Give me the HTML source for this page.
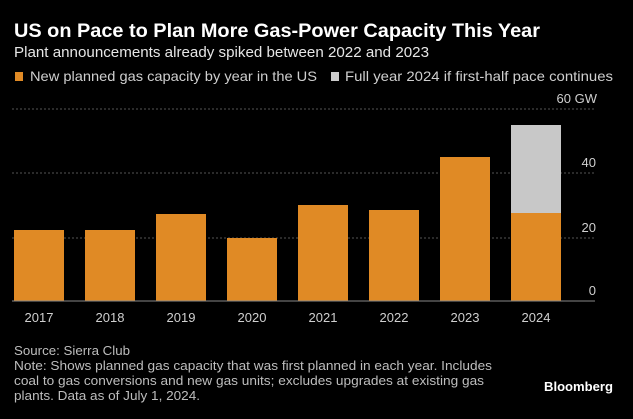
<!DOCTYPE html>
<html><head><meta charset="utf-8"><style>
body{margin:0;background:#000;width:633px;height:414px;overflow:hidden;font-family:"Liberation Sans",sans-serif;}
</style></head><body>
<svg width="633" height="414" xmlns="http://www.w3.org/2000/svg" font-family="Liberation Sans, sans-serif">
<rect width="633" height="414" fill="#000"/>
<text x="14" y="37" fill="#fff" font-size="19" font-weight="bold" textLength="526" lengthAdjust="spacingAndGlyphs">US on Pace to Plan More Gas-Power Capacity This Year</text>
<text x="14" y="57" fill="#e6e6e6" font-size="15" textLength="415" lengthAdjust="spacingAndGlyphs">Plant announcements already spiked between 2022 and 2023</text>
<rect x="15" y="72" width="8" height="9" fill="#e08a25"/>
<text x="30" y="81" fill="#cfcfcf" font-size="14" textLength="287" lengthAdjust="spacingAndGlyphs">New planned gas capacity by year in the US</text>
<rect x="331" y="72" width="8" height="9" fill="#cccccc"/>
<text x="345" y="81" fill="#cfcfcf" font-size="14" textLength="268" lengthAdjust="spacingAndGlyphs">Full year 2024 if first-half pace continues</text>
<g stroke="#555" stroke-dasharray="2,2" stroke-width="1">
<line x1="12" y1="109" x2="595" y2="109"/>
<line x1="12" y1="173" x2="595" y2="173"/>
<line x1="12" y1="238" x2="595" y2="238"/>
</g>
<g fill="#cfcfcf" font-size="13" text-anchor="end">
<text x="597" y="103">60 GW</text>
<text x="596" y="167">40</text>
<text x="596" y="232">20</text>
<text x="596" y="295">0</text>
</g>
<g fill="#e08a25">
<rect x="14" y="230" width="50" height="71"/>
<rect x="85" y="230" width="50" height="71"/>
<rect x="156" y="214" width="50" height="87"/>
<rect x="227" y="238" width="50" height="63"/>
<rect x="298" y="205" width="50" height="96"/>
<rect x="369" y="210" width="50" height="91"/>
<rect x="440" y="157" width="50" height="144"/>
<rect x="511" y="213" width="50" height="88"/>
</g>
<rect x="511" y="125" width="50" height="88" fill="#c8c8c8"/>
<line x1="12" y1="301" x2="595" y2="301" stroke="#888" stroke-width="1"/>
<g fill="#cfcfcf" font-size="13" text-anchor="middle">
<text x="39" y="322">2017</text><text x="110" y="322">2018</text><text x="181" y="322">2019</text><text x="252" y="322">2020</text>
<text x="323" y="322">2021</text><text x="394" y="322">2022</text><text x="465" y="322">2023</text><text x="536" y="322">2024</text>
</g>
<g fill="#bdbdbd" font-size="12.5" lengthAdjust="spacingAndGlyphs">
<text x="14" y="355" textLength="116" lengthAdjust="spacingAndGlyphs">Source: Sierra Club</text>
<text x="14" y="370" textLength="478" lengthAdjust="spacingAndGlyphs">Note: Shows planned gas capacity that was first planned in each year. Includes</text>
<text x="14" y="385" textLength="470" lengthAdjust="spacingAndGlyphs">coal to gas conversions and new gas units; excludes upgrades at existing gas</text>
<text x="14" y="400" textLength="186" lengthAdjust="spacingAndGlyphs">plants. Data as of July 1, 2024.</text>
</g>
<text x="544" y="391" fill="#fff" font-size="13" font-weight="bold" textLength="69" lengthAdjust="spacingAndGlyphs">Bloomberg</text>
</svg>
</body></html>
